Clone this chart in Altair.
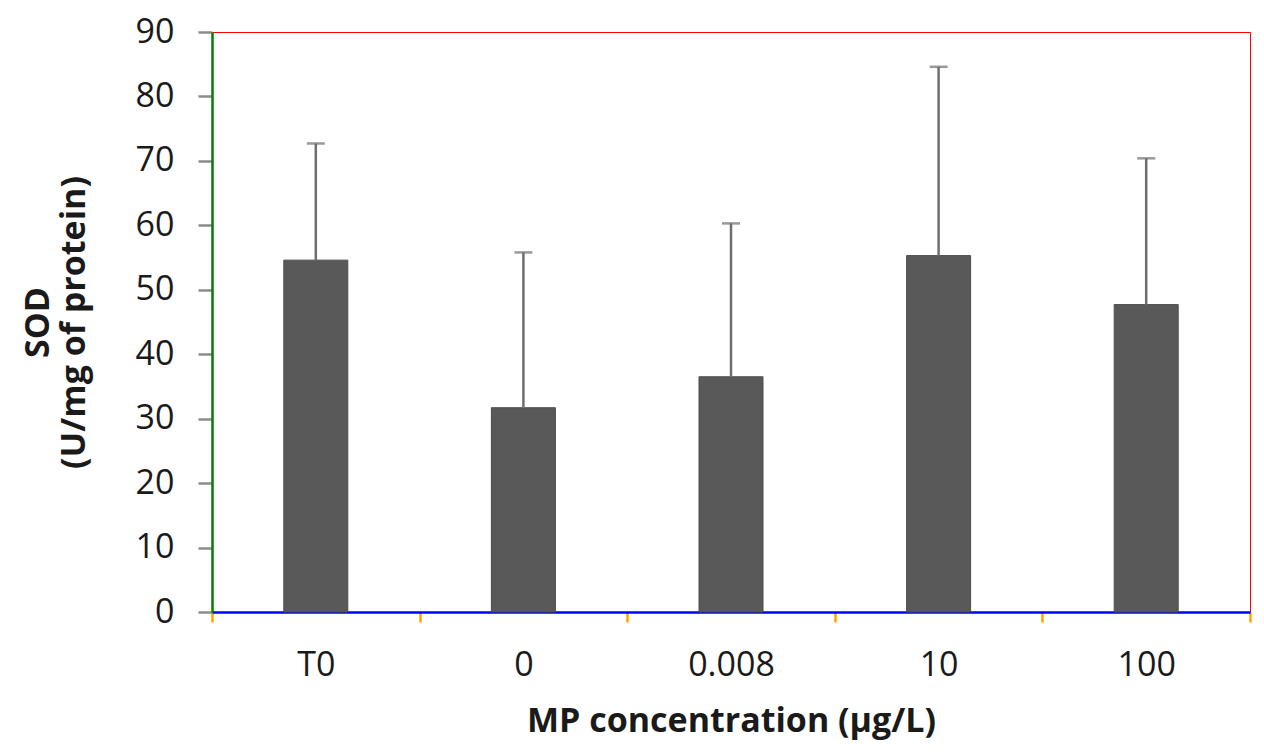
import altair as alt
import pandas as pd

categories = ["T0", "0", "0.008", "10", "100"]
means = [54.6, 31.7, 36.5, 55.3, 47.7]
upper = [72.7, 55.8, 60.3, 84.6, 70.4]

df = pd.DataFrame({"cat": categories, "mean": means, "upper": upper})

FONT = "Open Sans"
AX = "#8c8c8c"

x_scale = alt.Scale(domain=categories, paddingInner=0, paddingOuter=0)
x_axis = alt.Axis(
    title="MP concentration (µg/L)",
    labelAngle=0,
    tickBand="extent",
    tickSize=10,
    tickWidth=2.5,
    tickColor="orange",
    domainColor="blue",
    domainWidth=2.5,
    grid=False,
    labelFont=FONT,
    labelFontSize=34,
    labelColor="#1a1a1a",
    labelPadding=26,
    titleFont=FONT,
    titleFontSize=34,
    titleFontWeight="bold",
    titleColor="#1a1a1a",
    titlePadding=22,
)

y_scale = alt.Scale(domain=[0, 90], nice=False)
y_axis = alt.Axis(
    title=["SOD", "(U/mg of protein)"],
    values=list(range(0, 91, 10)),
    grid=False,
    tickSize=14,
    tickWidth=2.5,
    tickColor=AX,
    domainColor="green",
    domainWidth=2.5,
    labelFont=FONT,
    labelFontSize=34,
    labelColor="#1a1a1a",
    labelPadding=24,
    titleFont=FONT,
    titleFontSize=34,
    titleFontWeight="bold",
    titleColor="#1a1a1a",
    titleX=-174,
    titleY=290,
    titleAlign="center",
    titleBaseline="middle",
    titleAngle=-90,
)

base = alt.Chart(df)

bars = base.mark_bar(size=64, color="#595959", stroke="#4d4d4d", strokeWidth=1).encode(
    x=alt.X("cat:N", scale=x_scale, axis=x_axis),
    y=alt.Y("mean:Q", scale=y_scale, axis=y_axis),
)

err = base.mark_rule(color="#6e6e6e", strokeWidth=2.5).encode(
    x=alt.X("cat:N", scale=x_scale, axis=x_axis),
    y=alt.Y("mean:Q", scale=y_scale, axis=y_axis),
    y2="upper:Q",
)

cap = base.mark_tick(color="#6e6e6e", size=18, thickness=2.5, orient="horizontal").encode(
    x=alt.X("cat:N", scale=x_scale, axis=x_axis),
    y=alt.Y("upper:Q", scale=y_scale, axis=y_axis),
)

chart = (
    alt.layer(bars, err, cap)
    .properties(
        width=1038,
        height=580,
        background="white",
        autosize=alt.AutoSizeParams(type="none"),
        padding={"left": 204, "top": 24, "right": 6, "bottom": 136},
    )
    .configure_view(stroke="red", strokeWidth=1)
)

chart.save("out.html", embed_options={"renderer": "svg", "actions": False})
